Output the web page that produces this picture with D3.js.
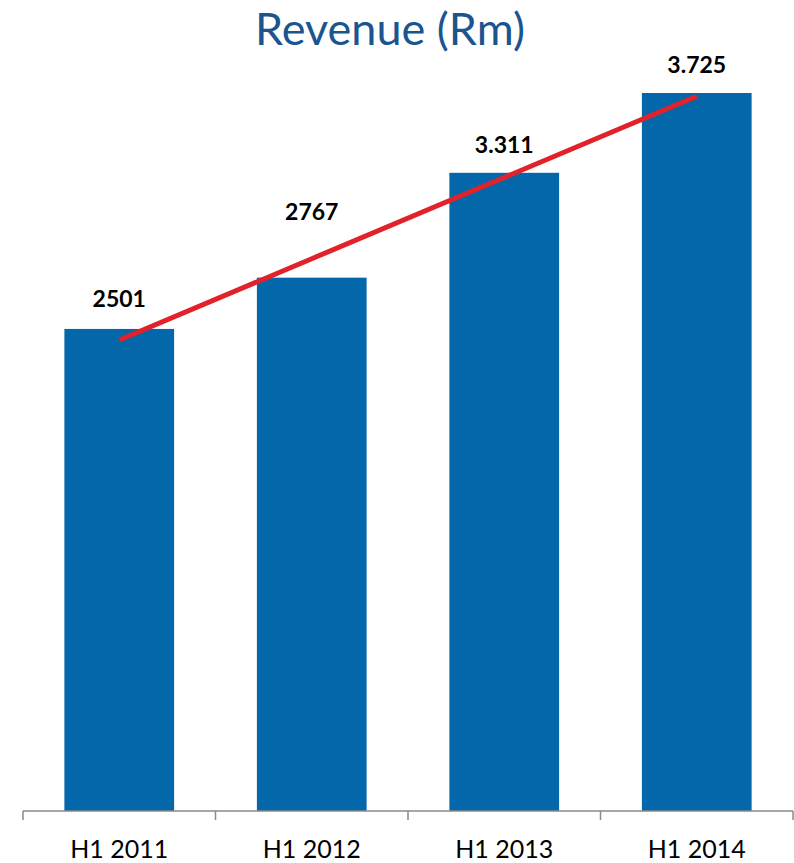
<!DOCTYPE html>
<html><head><meta charset="utf-8">
<script src="https://cdn.jsdelivr.net/npm/d3@7"></script>
<style>body{margin:0;background:#fff}svg{display:block}</style>
</head><body>
<script>
const categories = ["H1 2011", "H1 2012", "H1 2013", "H1 2014"];
const values = [2501, 2767, 3311, 3725];
const valueLabels = ["2501", "2767", "3.311", "3.725"];
const yDomain = [0, 4000];

const W = 794, H = 863;
const svg = d3.select("body").append("svg").attr("width", W).attr("height", H);
const font = "Lato, 'Open Sans', sans-serif";

const x = d3.scaleBand().domain(categories).range([23, 793]).paddingInner(0.43).paddingOuter(0.215);
const y = d3.scaleLinear().domain(yDomain).range([811, 40]);

svg.append("text").attr("x", 390).attr("y", 45).attr("text-anchor", "middle")
  .attr("font-family", font).attr("font-size", 45).attr("fill", "#1b5590").text("Revenue (Rm)");

svg.selectAll("rect.bar").data(values).join("rect").attr("class", "bar")
  .attr("x", (d, i) => x(categories[i])).attr("width", x.bandwidth())
  .attr("y", d => y(d)).attr("height", d => y(0) - y(d)).attr("fill", "#0467a9");

// axis
const axisG = svg.append("g").attr("transform", `translate(0,${y(0)})`);
axisG.append("line").attr("x1", 23).attr("x2", 793).attr("stroke", "#8a8a8a").attr("stroke-width", 1.5);
const tickXs = categories.map(c => x(c) - x.step() * x.paddingInner() / 2).concat([793]);
axisG.selectAll("line.tick").data(tickXs).join("line").attr("class", "tick")
  .attr("x1", d => d).attr("x2", d => d).attr("y1", 0).attr("y2", 9)
  .attr("stroke", "#8a8a8a").attr("stroke-width", 1.5);
axisG.selectAll("text").data(categories).join("text")
  .attr("x", d => x(d) + x.bandwidth() / 2).attr("y", 47).attr("text-anchor", "middle")
  .attr("font-family", font).attr("font-size", 25).attr("fill", "#000").text(d => d);

// trend line (linear regression)
const xs = values.map((d, i) => i + 1);
const mx = d3.mean(xs), my = d3.mean(values);
const slope = d3.sum(xs.map((xi, i) => (xi - mx) * (values[i] - my))) / d3.sum(xs.map(xi => (xi - mx) ** 2));
const icpt = my - slope * mx;
const trend = xs.map(xi => icpt + slope * xi);
svg.append("path").datum(trend)
  .attr("d", d3.line().x((d, i) => x(categories[i]) + x.bandwidth() / 2).y(d => y(d)))
  .attr("fill", "none").attr("stroke", "#e2222a").attr("stroke-width", 5);

// data labels
const labelOffsets = [22, 58, 20, 20];
svg.selectAll("text.lbl").data(values).join("text").attr("class", "lbl")
  .attr("x", (d, i) => x(categories[i]) + x.bandwidth() / 2)
  .attr("y", (d, i) => y(d) - labelOffsets[i])
  .attr("text-anchor", "middle").attr("font-family", font).attr("font-weight", "bold")
  .attr("font-size", 23).attr("fill", "#000").text((d, i) => valueLabels[i]);
</script>
</body></html>
